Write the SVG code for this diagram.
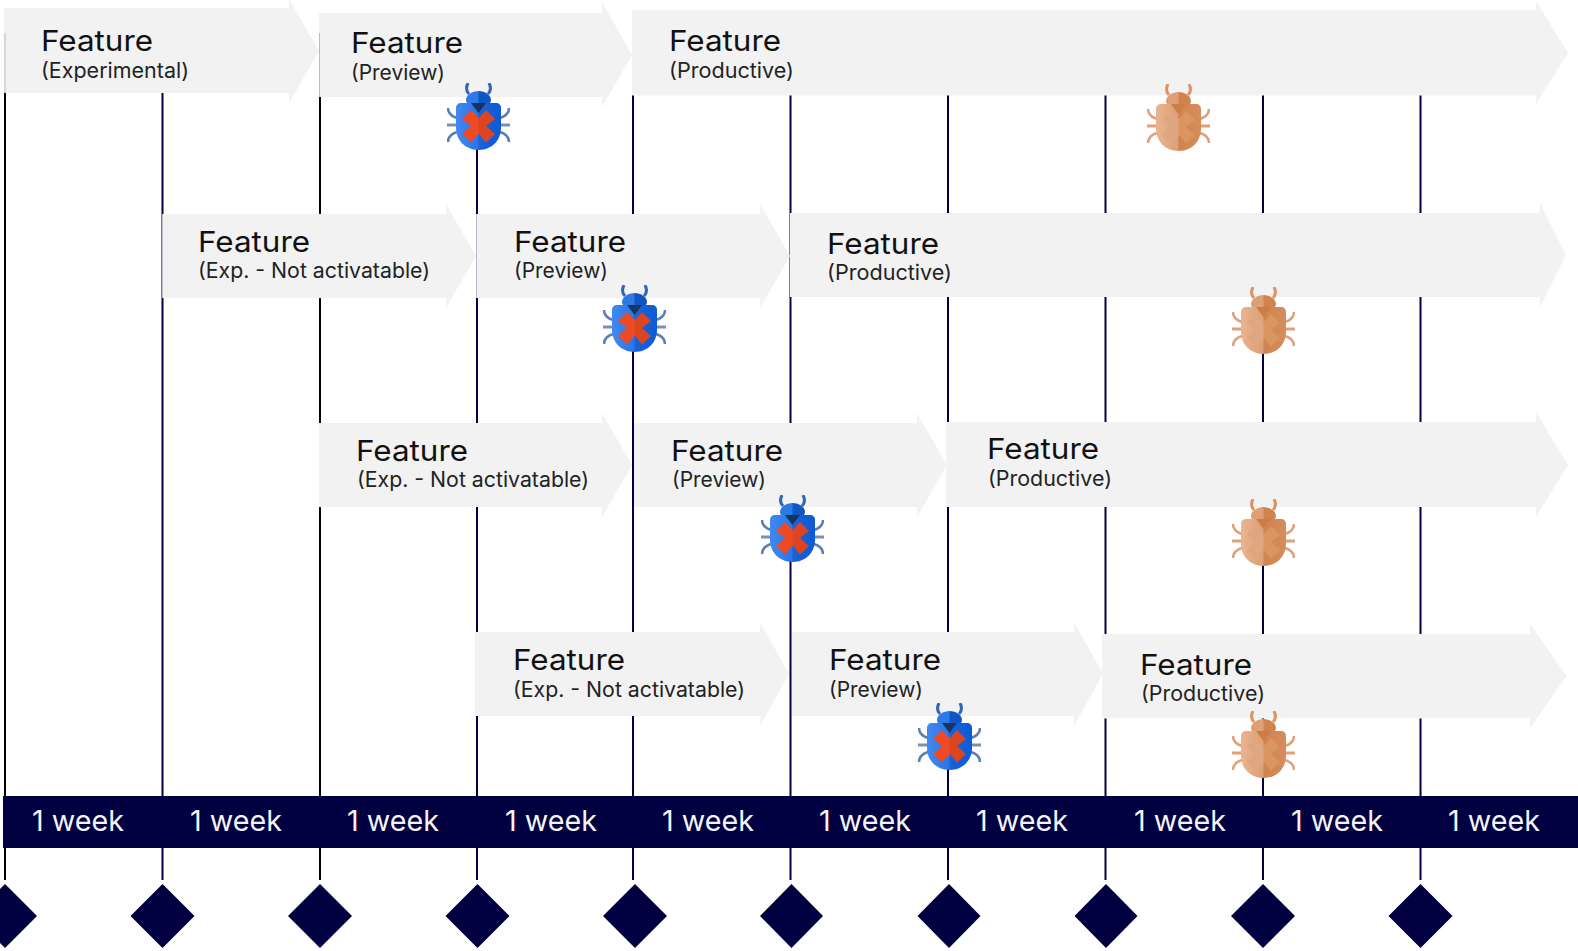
<svg xmlns="http://www.w3.org/2000/svg" xmlns:xlink="http://www.w3.org/1999/xlink" width="1578" height="951" viewBox="0 0 1578 951">
<style>
text{font-family:Inter,"Liberation Sans",sans-serif;}
.a{fill:#f2f2f2}
.t{font-size:29px;fill:#111}
.s{font-size:21px;fill:#222}
.w{font-size:29px;fill:#f4f4f8}
.n{stroke:#000040;stroke-width:2;fill:none}
.k{stroke:#000;stroke-width:2;fill:none}
.f{stroke:#b9b9d0;stroke-width:1;fill:none}
.d{fill:#000040}
.bar{fill:#000040}
</style>
<defs>
<linearGradient id="bl" x1="0" x2="1"><stop offset="0" stop-color="#4189f1"/><stop offset="1" stop-color="#2a74e8"/></linearGradient>
<linearGradient id="ol" x1="0" x2="1"><stop offset="0" stop-color="#e9b591"/><stop offset="1" stop-color="#dd9e72"/></linearGradient>
<linearGradient id="br" x1="0" x2="1"><stop offset="0" stop-color="#1a63d8"/><stop offset="1" stop-color="#0c5ad6"/></linearGradient>
<linearGradient id="or" x1="0" x2="1"><stop offset="0" stop-color="#cf8450"/><stop offset="1" stop-color="#d58d5b"/></linearGradient>
<symbol id="bugBlue" width="63" height="67" viewBox="0 0 63 67">
<path d="M22 11C19 8 19 4 21 0M41 11C44 8 44 4 42 0" fill="none" stroke="#2f66b8" stroke-width="3"/>
<path d="M1 25C1 30 4 33 10 35M62 25C62 30 59 33 53 35M1 59C1 54 4 51 10 49M62 59C62 54 59 51 53 49" fill="none" stroke="#5b7fb0" stroke-width="2.5"/>
<path d="M0 42H10M53 42H63" stroke="#7a90b0" stroke-width="3"/>
<path d="M32 8C25 8 19 12 19 17C19 21 24 24 32 24Z" fill="#2b7ae8"/>
<path d="M31.5 8C38 8 44 12 44 17C44 21 39 24 31.5 24Z" fill="#0f56c4"/>
<path d="M32 67C17 67 9 56 9 45V25C9 22 11 20 14 20H24L32 28Z" fill="url(#bl)"/>
<path d="M31.5 67C46 67 54 56 54 45V25C54 22 52 20 49 20H39L31.5 28Z" fill="url(#br)"/>
<path d="M24 20H39L31.5 30Z" fill="#17335f"/>
<path d="M32 35.5L24 27L15 36L24 43L15 51L24 59.5L32 50.5Z" fill="#ee4b25"/>
<path d="M31.5 35.5L39 27L48 36L39 43L48 51L39 59.5L31.5 50.5Z" fill="#dc4520"/>
</symbol>
<symbol id="bugOrange" width="63" height="67" viewBox="0 0 63 67">
<path d="M22 11C19 8 19 4 21 0M41 11C44 8 44 4 42 0" fill="none" stroke="#da9364" stroke-width="3"/>
<path d="M1 25C1 30 4 33 10 35M62 25C62 30 59 33 53 35M1 59C1 54 4 51 10 49M62 59C62 54 59 51 53 49" fill="none" stroke="#e0a07a" stroke-width="2.5"/>
<path d="M0 42H10M53 42H63" stroke="#e0a07a" stroke-width="3"/>
<path d="M32 8C25 8 19 12 19 17C19 21 24 24 32 24Z" fill="#de9f75"/>
<path d="M31.5 8C38 8 44 12 44 17C44 21 39 24 31.5 24Z" fill="#cf8450"/>
<path d="M32 67C17 67 9 56 9 45V25C9 22 11 20 14 20H24L32 28Z" fill="url(#ol)"/>
<path d="M31.5 67C46 67 54 56 54 45V25C54 22 52 20 49 20H39L31.5 28Z" fill="url(#or)"/>
<path d="M24 20H39L31.5 30Z" fill="#cc7d46"/>
<path d="M32 35.5L24 27L15 36L24 43L15 51L24 59.5L32 50.5Z" fill="#dfa781"/>
<path d="M31.5 35.5L39 27L48 36L39 43L48 51L39 59.5L31.5 50.5Z" fill="#d9965f"/>
</symbol>
</defs>
<g id="connectors">
<path class="k" d="M5 33V880"/>
<path class="n" d="M162.5 93V880"/>
<path class="k" d="M320 33V880"/>
<path class="n" d="M477 100V880"/>
<path class="n" d="M633 93V880"/>
<path class="n" d="M790.5 93V880"/>
<path class="n" d="M948 93V880"/>
<path class="n" d="M1105.5 93V880"/>
<path class="n" d="M1263 93V880"/>
<path class="n" d="M1420.5 93V880"/>
</g>
<g id="week-bar">
<rect class="bar" x="3" y="796" width="1575" height="52"/>
<text class="w" x="32" y="831" textLength="92" lengthAdjust="spacingAndGlyphs">1 week</text>
<text class="w" x="190" y="831" textLength="92" lengthAdjust="spacingAndGlyphs">1 week</text>
<text class="w" x="347" y="831" textLength="92" lengthAdjust="spacingAndGlyphs">1 week</text>
<text class="w" x="505" y="831" textLength="92" lengthAdjust="spacingAndGlyphs">1 week</text>
<text class="w" x="662" y="831" textLength="92" lengthAdjust="spacingAndGlyphs">1 week</text>
<text class="w" x="819" y="831" textLength="92" lengthAdjust="spacingAndGlyphs">1 week</text>
<text class="w" x="976" y="831" textLength="92" lengthAdjust="spacingAndGlyphs">1 week</text>
<text class="w" x="1134" y="831" textLength="92" lengthAdjust="spacingAndGlyphs">1 week</text>
<text class="w" x="1291" y="831" textLength="92" lengthAdjust="spacingAndGlyphs">1 week</text>
<text class="w" x="1448" y="831" textLength="92" lengthAdjust="spacingAndGlyphs">1 week</text>
</g>
<g id="milestones">
<polygon class="d" points="5,884 37,916 5,948 -27,916"/>
<polygon class="d" points="162.5,884 194.5,916 162.5,948 130.5,916"/>
<polygon class="d" points="320,884 352,916 320,948 288,916"/>
<polygon class="d" points="477.5,884 509.5,916 477.5,948 445.5,916"/>
<polygon class="d" points="635,884 667,916 635,948 603,916"/>
<polygon class="d" points="791.5,884 823,916 791.5,948 760,916"/>
<polygon class="d" points="949,884 980.5,916 949,948 917.5,916"/>
<polygon class="d" points="1106,884 1137.5,916 1106,948 1074.5,916"/>
<polygon class="d" points="1263,884 1295,916 1263,948 1231,916"/>
<polygon class="d" points="1420.5,884 1452.5,916 1420.5,948 1388.5,916"/>
</g>
<g id="f1"><polygon class="a" points="4,8 289,8 289,-1 319,51 289,103 289,93 4,93"/>
<text class="t" x="41" y="51" textLength="112" lengthAdjust="spacingAndGlyphs">Feature</text><text class="s" x="41" y="78" textLength="148" lengthAdjust="spacingAndGlyphs">(Experimental)</text></g>
<g id="f2"><polygon class="a" points="319,13 602,13 602,2 632,55 602,107 602,97 319,97"/>
<text class="t" x="351" y="53" textLength="112" lengthAdjust="spacingAndGlyphs">Feature</text><text class="s" x="351" y="80" textLength="94" lengthAdjust="spacingAndGlyphs">(Preview)</text></g>
<g id="f3"><polygon class="a" points="632,10 1536,10 1536,1 1568,53 1536,104 1536,95.5 632,95.5"/>
<text class="t" x="669" y="51" textLength="112" lengthAdjust="spacingAndGlyphs">Feature</text><text class="s" x="669" y="78" textLength="125" lengthAdjust="spacingAndGlyphs">(Productive)</text></g>
<g id="f4"><polygon class="a" points="162,214 446,214 446,204 476,256 446,308 446,298 162,298"/>
<text class="t" x="198" y="252" textLength="112" lengthAdjust="spacingAndGlyphs">Feature</text><text class="s" x="198" y="278" textLength="232" lengthAdjust="spacingAndGlyphs">(Exp. - Not activatable)</text></g>
<g id="f5"><polygon class="a" points="476,214 760,214 760,204 790,256 760,308 760,298 476,298"/>
<text class="t" x="514" y="252" textLength="112" lengthAdjust="spacingAndGlyphs">Feature</text><text class="s" x="514" y="278" textLength="94" lengthAdjust="spacingAndGlyphs">(Preview)</text></g>
<g id="f6"><polygon class="a" points="790,213 1540,213 1540,203 1566,255 1540,307 1540,297 790,297"/>
<text class="t" x="827" y="254" textLength="112" lengthAdjust="spacingAndGlyphs">Feature</text><text class="s" x="827" y="280" textLength="125" lengthAdjust="spacingAndGlyphs">(Productive)</text></g>
<g id="f7"><polygon class="a" points="319,423 602,423 602,413 632,465 602,517 602,507 319,507"/>
<text class="t" x="356" y="461" textLength="112" lengthAdjust="spacingAndGlyphs">Feature</text><text class="s" x="357" y="487" textLength="232" lengthAdjust="spacingAndGlyphs">(Exp. - Not activatable)</text></g>
<g id="f8"><polygon class="a" points="634,423 917,423 917,413 947,465 917,517 917,507 634,507"/>
<text class="t" x="671" y="461" textLength="112" lengthAdjust="spacingAndGlyphs">Feature</text><text class="s" x="672" y="487" textLength="94" lengthAdjust="spacingAndGlyphs">(Preview)</text></g>
<g id="f9"><polygon class="a" points="946,422 1536,422 1536,412 1568,465 1536,517 1536,507 946,507"/>
<text class="t" x="987" y="459" textLength="112" lengthAdjust="spacingAndGlyphs">Feature</text><text class="s" x="988" y="486" textLength="124" lengthAdjust="spacingAndGlyphs">(Productive)</text></g>
<g id="f10"><polygon class="a" points="475,632 760,632 760,622 789,674 760,726 760,716 475,716"/>
<text class="t" x="513" y="670" textLength="112" lengthAdjust="spacingAndGlyphs">Feature</text><text class="s" x="513" y="697" textLength="232" lengthAdjust="spacingAndGlyphs">(Exp. - Not activatable)</text></g>
<g id="f11"><polygon class="a" points="792,632 1074,632 1074,622 1103,674 1074,726 1074,716 792,716"/>
<text class="t" x="829" y="670" textLength="112" lengthAdjust="spacingAndGlyphs">Feature</text><text class="s" x="829" y="697" textLength="94" lengthAdjust="spacingAndGlyphs">(Preview)</text></g>
<g id="f12"><polygon class="a" points="1102,634 1530,634 1530,624 1566.5,676 1530,728 1530,718.5 1102,718.5"/>
<text class="t" x="1140" y="675" textLength="112" lengthAdjust="spacingAndGlyphs">Feature</text><text class="s" x="1141" y="701" textLength="124" lengthAdjust="spacingAndGlyphs">(Productive)</text></g>
<g id="edge-lines">
<path class="f" d="M5 33V93M319.5 33V97M162.5 214V298M476.5 214V298"/>
</g>
<g id="bug1"><use xlink:href="#bugBlue" href="#bugBlue" x="447" y="83"/></g>
<g id="bug2"><use xlink:href="#bugOrange" href="#bugOrange" x="1147" y="84"/></g>
<g id="bug3"><use xlink:href="#bugBlue" href="#bugBlue" x="603" y="285"/></g>
<g id="bug4"><use xlink:href="#bugOrange" href="#bugOrange" x="1232" y="287"/></g>
<g id="bug5"><use xlink:href="#bugBlue" href="#bugBlue" x="761" y="495"/></g>
<g id="bug6"><use xlink:href="#bugOrange" href="#bugOrange" x="1232" y="499"/></g>
<g id="bug7"><use xlink:href="#bugBlue" href="#bugBlue" x="918" y="703"/></g>
<g id="bug8"><use xlink:href="#bugOrange" href="#bugOrange" x="1232" y="711"/></g>
</svg>
